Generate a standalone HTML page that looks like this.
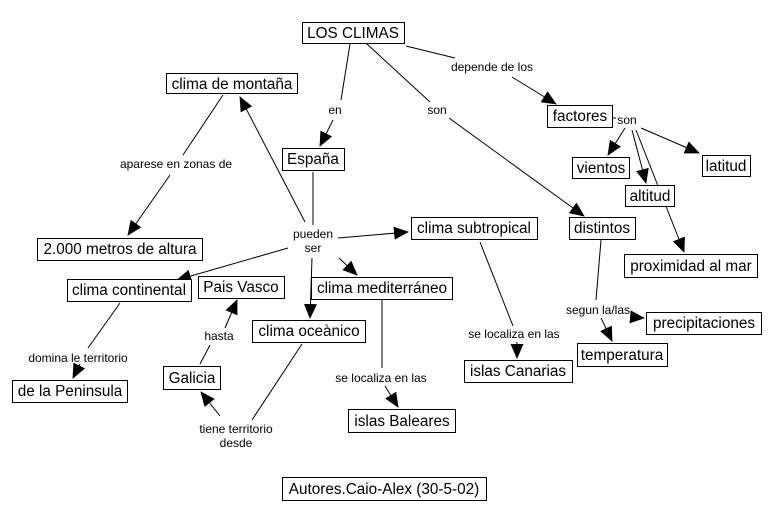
<!DOCTYPE html>
<html><head><meta charset="utf-8"><style>
body{margin:0;background:#fff}
svg{display:block}
.b{fill:#fff;stroke:#000;stroke-width:1}
.t{font-family:"Liberation Sans",Arial,sans-serif;font-size:15.3px;fill:#000}
.l{font-family:"Liberation Sans",Arial,sans-serif;font-size:12px;fill:#000}
line{stroke:#000;stroke-width:1}
</style></head><body>
<svg width="773" height="521" viewBox="0 0 773 521" xmlns="http://www.w3.org/2000/svg">
<defs><marker id="a" markerUnits="userSpaceOnUse" markerWidth="15" markerHeight="13" refX="14" refY="6.5" orient="auto"><path d="M0,0 L15,6.5 L0,13 z" fill="#000"/></marker></defs>
<g>
<line x1="350" y1="44" x2="341" y2="100"/><line x1="333" y1="120" x2="320" y2="146" marker-end="url(#a)"/>
<line x1="367" y1="44" x2="430" y2="102"/><line x1="449" y1="118" x2="584" y2="216" marker-end="url(#a)"/>
<line x1="406" y1="46" x2="455" y2="58"/><line x1="512" y1="77" x2="556" y2="104" marker-end="url(#a)"/>
<line x1="612" y1="118" x2="616" y2="118"/>
<line x1="625" y1="128" x2="608" y2="155" marker-end="url(#a)"/>
<line x1="641" y1="128" x2="699" y2="153" marker-end="url(#a)"/>
<line x1="632" y1="130" x2="646" y2="183" marker-end="url(#a)"/>
<line x1="636" y1="130" x2="684" y2="252" marker-end="url(#a)"/>
<line x1="223" y1="95" x2="183" y2="155"/><line x1="170" y1="175" x2="128" y2="235" marker-end="url(#a)"/>
<line x1="313" y1="172" x2="313" y2="225"/>
<line x1="305" y1="222" x2="240" y2="97" marker-end="url(#a)"/>
<line x1="338" y1="238" x2="408" y2="232" marker-end="url(#a)"/>
<line x1="288" y1="248" x2="177" y2="280" marker-end="url(#a)"/>
<line x1="312" y1="258" x2="310" y2="318" marker-end="url(#a)"/>
<line x1="339" y1="258" x2="357" y2="275" marker-end="url(#a)"/>
<line x1="120" y1="303" x2="88" y2="348"/><line x1="80" y1="364" x2="73" y2="378" marker-end="url(#a)"/>
<line x1="200" y1="364" x2="210" y2="345"/><line x1="225" y1="328" x2="237" y2="300" marker-end="url(#a)"/>
<line x1="302" y1="344" x2="252" y2="420"/><line x1="220" y1="416" x2="201" y2="392" marker-end="url(#a)"/>
<line x1="382" y1="300" x2="382" y2="368"/><line x1="385" y1="386" x2="398" y2="407" marker-end="url(#a)"/>
<line x1="480" y1="242" x2="513" y2="326"/><line x1="517" y1="342" x2="517" y2="358" marker-end="url(#a)"/>
<line x1="601" y1="240" x2="596" y2="300"/>
<line x1="601" y1="318" x2="612" y2="341" marker-end="url(#a)"/>
<line x1="632" y1="317" x2="644" y2="318" marker-end="url(#a)"/>
</g>
<g>
<rect class="b" x="302.5" y="22.5" width="102" height="21"/><text class="t" x="353" y="38" text-anchor="middle">LOS CLIMAS</text>
<rect class="b" x="166.5" y="73.5" width="131" height="20"/><text class="t" x="232" y="89" text-anchor="middle">clima de montaña</text>
<rect class="b" x="282.5" y="148.5" width="62" height="22"/><text class="t" x="313" y="164" text-anchor="middle">España</text>
<rect class="b" x="37.5" y="238.5" width="165" height="22"/><text class="t" x="120" y="254" text-anchor="middle">2.000 metros de altura</text>
<rect class="b" x="67.5" y="279.5" width="124" height="22"/><text class="t" x="129" y="295" text-anchor="middle">clima continental</text>
<rect class="b" x="198.5" y="276.5" width="86" height="22"/><text class="t" x="241" y="292" text-anchor="middle">Pais Vasco</text>
<rect class="b" x="311.5" y="277.5" width="141" height="22"/><text class="t" x="382" y="293" text-anchor="middle">clima mediterráneo</text>
<rect class="b" x="252.5" y="320.5" width="113" height="22"/><text class="t" x="309" y="336" text-anchor="middle">clima oceànico</text>
<rect class="b" x="12.5" y="380.5" width="115" height="22"/><text class="t" x="70" y="396" text-anchor="middle">de la Peninsula</text>
<rect class="b" x="163.5" y="366.5" width="57" height="23"/><text class="t" x="192" y="383" text-anchor="middle">Galicia</text>
<rect class="b" x="348.5" y="409.5" width="107" height="23"/><text class="t" x="402" y="426" text-anchor="middle">islas Baleares</text>
<rect class="b" x="411.5" y="217.5" width="126" height="22"/><text class="t" x="474" y="233" text-anchor="middle">clima subtropical</text>
<rect class="b" x="569.5" y="217.5" width="66" height="22"/><text class="t" x="602" y="233" text-anchor="middle">distintos</text>
<rect class="b" x="547.5" y="105.5" width="65" height="22"/><text class="t" x="580" y="121" text-anchor="middle">factores</text>
<rect class="b" x="572.5" y="157.5" width="57" height="21"/><text class="t" x="601" y="173" text-anchor="middle">vientos</text>
<rect class="b" x="702.5" y="155.5" width="48" height="21"/><text class="t" x="726" y="171" text-anchor="middle">latitud</text>
<rect class="b" x="625.5" y="185.5" width="49" height="21"/><text class="t" x="650" y="201" text-anchor="middle">altitud</text>
<rect class="b" x="624.5" y="254.5" width="133" height="23"/><text class="t" x="691" y="271" text-anchor="middle">proximidad al mar</text>
<rect class="b" x="646.5" y="312.5" width="115" height="22"/><text class="t" x="704" y="328" text-anchor="middle">precipitaciones</text>
<rect class="b" x="577.5" y="343.5" width="90" height="23"/><text class="t" x="622" y="360" text-anchor="middle">temperatura</text>
<rect class="b" x="464.5" y="360.5" width="108" height="22"/><text class="t" x="518" y="376" text-anchor="middle">islas Canarias</text>
<rect class="b" x="282.5" y="477.5" width="204" height="23"/><text class="t" x="384" y="494" text-anchor="middle">Autores.Caio-Alex (30-5-02)</text>
</g>
<g>
<text class="l" x="335" y="114" text-anchor="middle">en</text>
<text class="l" x="176" y="168" text-anchor="middle">aparese en zonas de</text>
<text class="l" x="313" y="238" text-anchor="middle">pueden</text>
<text class="l" x="313" y="252" text-anchor="middle">ser</text>
<text class="l" x="437" y="114" text-anchor="middle">son</text>
<text class="l" x="492" y="71" text-anchor="middle">depende de los</text>
<text class="l" x="627" y="124" text-anchor="middle">son</text>
<text class="l" x="598" y="314" text-anchor="middle">segun la/las</text>
<text class="l" x="514" y="338" text-anchor="middle">se localiza en las</text>
<text class="l" x="381" y="382" text-anchor="middle">se localiza en las</text>
<text class="l" x="78" y="362" text-anchor="middle">domina le territorio</text>
<text class="l" x="219" y="340" text-anchor="middle">hasta</text>
<text class="l" x="236" y="433" text-anchor="middle">tiene territorio</text>
<text class="l" x="236" y="447" text-anchor="middle">desde</text>
</g>
</svg>
</body></html>
